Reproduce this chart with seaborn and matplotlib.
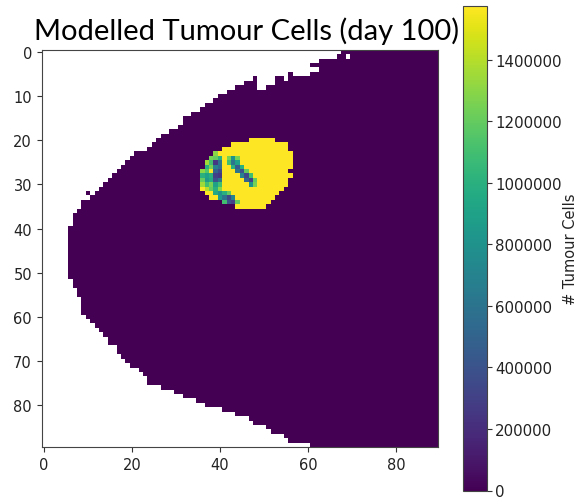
import numpy as np
import matplotlib
matplotlib.use("Agg")
import matplotlib.pyplot as plt
import seaborn as sns

N_ROWS, N_COLS = 90, 90

# first tissue column of each row (left outline of the breast)
left_edge = [68, 67, 63, 61, 63, 56, 48, 46, 44, 42,
             40, 39, 37, 36, 34, 32, 32, 31, 29, 27,
             26, 25, 24, 21, 20, 19, 18, 17, 16, 15,
             14, 13, 12, 11, 9, 9, 8, 7, 7, 7,
             6, 6, 6, 6, 6, 6, 6, 6, 6, 6,
             6, 6, 7, 7, 8, 8, 9, 9, 9, 9,
             10, 11, 12, 13, 14, 15, 15, 17, 17, 18,
             19, 20, 22, 23, 24, 24, 27, 30, 32, 35,
             37, 41, 44, 47, 48, 51, 52, 55, 56, 61]

# first tissue row of each column (upper outline)
top_edge = ([0] * 48
            + [6, 9, 9, 8, 8, 6, 6, 7, 5, 6, 6, 6, 6, 3, 3, 2, 2, 2, 2, 1]
            + [0] * 22)

outside_cells = [(1, 69)]
stray_cells = [(32, 10)]

# tumour extent per row and cell counts
tumour_rows = list(range(20, 36))
tumour_start = [47, 43, 41, 39, 38, 37, 37, 36, 36, 36, 36, 36, 37, 38, 41, 44]
tumour_end = [52, 55, 55, 56, 56, 56, 56, 55, 56, 55, 55, 54, 53, 52, 51, 50]
tumour_peak = 1575000

# (row, column, cells) where the count is below the peak
tumour_low = [
    # left rim
    (23, 39, 1300000), (24, 38, 1250000), (25, 37, 1350000), (25, 38, 1100000),
    (26, 37, 1000000), (26, 38, 1250000), (27, 36, 1300000), (27, 37, 1150000),
    (28, 36, 1000000), (28, 37, 900000), (28, 38, 1000000), (29, 36, 1200000),
    (29, 37, 850000), (29, 38, 950000), (30, 36, 1350000), (30, 37, 1100000),
    (30, 38, 1250000), (31, 37, 1400000),
    # left dark patch
    (24, 39, 1200000), (24, 40, 1000000), (25, 39, 250000), (25, 40, 600000),
    (26, 39, 700000), (26, 40, 550000), (27, 39, 500000), (27, 40, 350000),
    (28, 39, 300000), (28, 40, 250000), (29, 39, 400000), (29, 40, 600000),
    (30, 39, 900000), (30, 40, 1100000),
    # diagonal streak
    (24, 42, 1250000), (24, 43, 800000), (24, 44, 1250000),
    (25, 42, 1100000), (25, 43, 600000), (25, 44, 900000),
    (26, 43, 1000000), (26, 44, 450000), (26, 45, 1000000),
    (27, 44, 600000), (27, 45, 400000), (27, 46, 1200000),
    (28, 45, 700000), (28, 46, 350000), (28, 47, 1100000),
    (29, 46, 500000), (29, 47, 300000), (29, 48, 1200000),
    (30, 47, 800000), (30, 48, 1250000),
    # lower patch
    (31, 38, 1200000), (31, 39, 1000000), (31, 40, 1300000), (32, 39, 950000),
    (32, 40, 800000), (32, 41, 1000000), (32, 42, 1200000), (33, 40, 850000),
    (33, 41, 600000), (33, 42, 350000), (33, 43, 700000), (34, 41, 1100000),
    (34, 42, 400000), (34, 43, 300000), (34, 44, 1200000),
]

x_ticks = [0, 20, 40, 60, 80]
y_ticks = [0, 10, 20, 30, 40, 50, 60, 70, 80]
cbar_ticks = [0, 200000, 400000, 600000, 800000, 1000000, 1200000, 1400000]

# build the cell grid
grid = np.full((N_ROWS, N_COLS), np.nan)
for r in range(N_ROWS):
    for c in range(N_COLS):
        if c >= left_edge[r] and r >= top_edge[c]:
            grid[r, c] = 0.0
for r, c in outside_cells:
    grid[r, c] = np.nan
for r, c in stray_cells:
    grid[r, c] = 0.0
for r, s, e in zip(tumour_rows, tumour_start, tumour_end):
    grid[r, s:e + 1] = tumour_peak
for r, c, v in tumour_low:
    grid[r, c] = v

W, H = 579, 502
fig = plt.figure(figsize=(W / 100, H / 100), dpi=100)
ax = fig.add_axes([41.7 / W, 1 - 448 / H, (438 - 41.7) / W, (448 - 50.8) / H])
cax = fig.add_axes([463 / W, 1 - 491.5 / H, 24 / W, (491.5 - 7) / H])

sns.heatmap(grid, ax=ax, cbar_ax=cax, cmap="viridis", vmin=0, vmax=tumour_peak,
            mask=np.isnan(grid), xticklabels=False, yticklabels=False)

ax.set_xticks([t + 0.5 for t in x_ticks])
ax.set_xticklabels([str(t) for t in x_ticks], rotation=0)
ax.set_yticks([t + 0.5 for t in y_ticks])
ax.set_yticklabels([str(t) for t in y_ticks], rotation=0)
ax.tick_params(length=3.5, width=0.8, direction="out", color="#333333",
               labelsize=10.5, labelcolor="#222222")
for spine in ax.spines.values():
    spine.set_visible(True)
    spine.set_linewidth(0.8)
    spine.set_color("#444444")

cbar = ax.collections[0].colorbar
cbar.set_ticks(cbar_ticks, labels=[str(t) for t in cbar_ticks])
cbar.ax.tick_params(length=3.5, width=0.8, pad=2.5, color="#333333",
                    labelsize=10.8, labelcolor="#222222")
cbar.outline.set_linewidth(0.8)
cbar.outline.set_edgecolor("#444444")
cbar.set_label("# Tumour Cells", fontsize=10.5, color="#222222", labelpad=1)

fig.text(246.5 / W, 1 - 40 / H, "Modelled Tumour Cells (day 100)",
         ha="center", va="baseline", fontsize=21, family="Lato", color="black")

fig.savefig("out.png", dpi=100, facecolor="white")
